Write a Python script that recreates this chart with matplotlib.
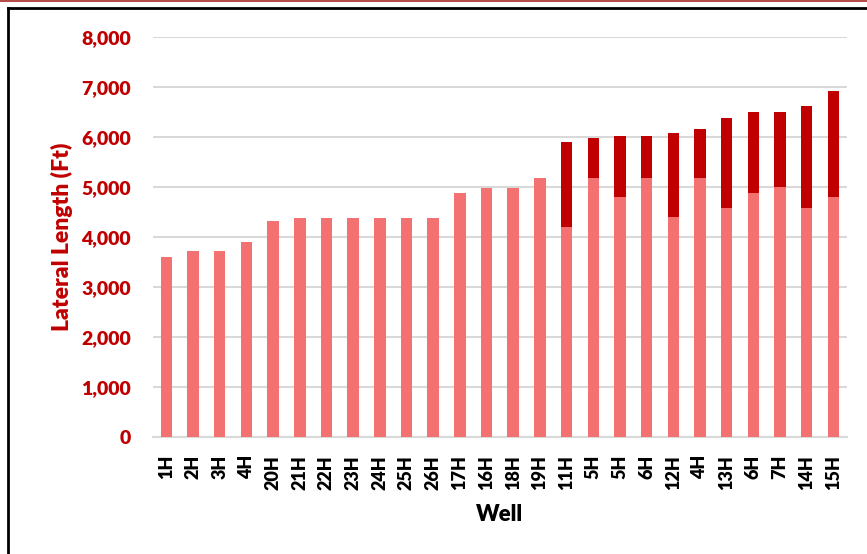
import numpy as np
import matplotlib.pyplot as plt
from matplotlib.lines import Line2D
from matplotlib.ticker import FuncFormatter

wells = ['1H', '2H', '3H', '4H', '20H', '21H', '22H', '23H', '24H', '25H', '26H',
         '17H', '16H', '18H', '19H', '11H', '5H', '5H', '6H', '12H', '4H', '13H',
         '6H', '7H', '14H', '15H']
# lower (light) segment of each lateral, ft
base_len = [3600, 3720, 3720, 3900, 4320, 4390, 4390, 4390, 4390, 4390, 4390,
            4880, 4990, 4990, 5180, 4210, 5190, 4810, 5190, 4400, 5190, 4580,
            4890, 5000, 4580, 4810]
# total lateral length, ft
total_len = [3600, 3720, 3720, 3900, 4320, 4390, 4390, 4390, 4390, 4390, 4390,
             4880, 4990, 4990, 5180, 5900, 5980, 6020, 6020, 6090, 6170, 6380,
             6500, 6500, 6620, 6920]

light = '#F47172'
dark = '#C00000'
font = 'Lato'

base = np.array(base_len)
ext = np.array(total_len) - base
x = np.arange(len(wells))

fig = plt.figure(figsize=(8.67, 5.54), dpi=100)
ax = fig.add_axes([0.1765, 0.2112, 0.8001, 0.722])

ax.bar(x, base, width=0.43, color=light, zorder=3)
ax.bar(x, ext, bottom=base, width=0.43, color=dark, zorder=3)

ax.set_xlim(-0.5, len(wells) - 0.5)
ax.set_ylim(0, 8000)
ax.set_yticks(np.arange(0, 8001, 1000))
ax.yaxis.set_major_formatter(FuncFormatter(lambda v, p: f'{int(v):,}'))
ax.grid(axis='y', color='#D9D9D9', linewidth=1.5, zorder=0)

for s in ['top', 'right', 'left']:
    ax.spines[s].set_visible(False)
ax.spines['bottom'].set_color('#D9D9D9')
ax.spines['bottom'].set_linewidth(1.5)
ax.tick_params(length=0)

ax.set_xticks(x)
ax.set_xticklabels(wells, rotation=90, fontsize=13, fontweight='heavy',
                   family=font, color='black')
ax.tick_params(axis='x', pad=13)
ax.tick_params(axis='y', pad=16)
for t in ax.get_yticklabels():
    t.set_fontsize(14)
    t.set_fontweight('heavy')
    t.set_family(font)
    t.set_color(dark)

ax.set_xlabel('Well', fontsize=16, fontweight='heavy', family=font, labelpad=10)
ax.set_ylabel('Lateral Length (Ft)', fontsize=16.5, fontweight='heavy',
              family=font, color=dark)
ax.yaxis.set_label_coords(-0.115, 0.5)

# outer frame lines
fig.add_artist(Line2D([0, 1], [0.999, 0.999], color='#A82A2A', linewidth=1.2,
                      transform=fig.transFigure))
fig.add_artist(Line2D([0.0087, 1], [0.986, 0.986], color='black', linewidth=2,
                      transform=fig.transFigure))
fig.add_artist(Line2D([0.0087, 0.0087], [0, 0.986], color='black', linewidth=2,
                      transform=fig.transFigure))

fig.savefig('out.png', dpi=100)
